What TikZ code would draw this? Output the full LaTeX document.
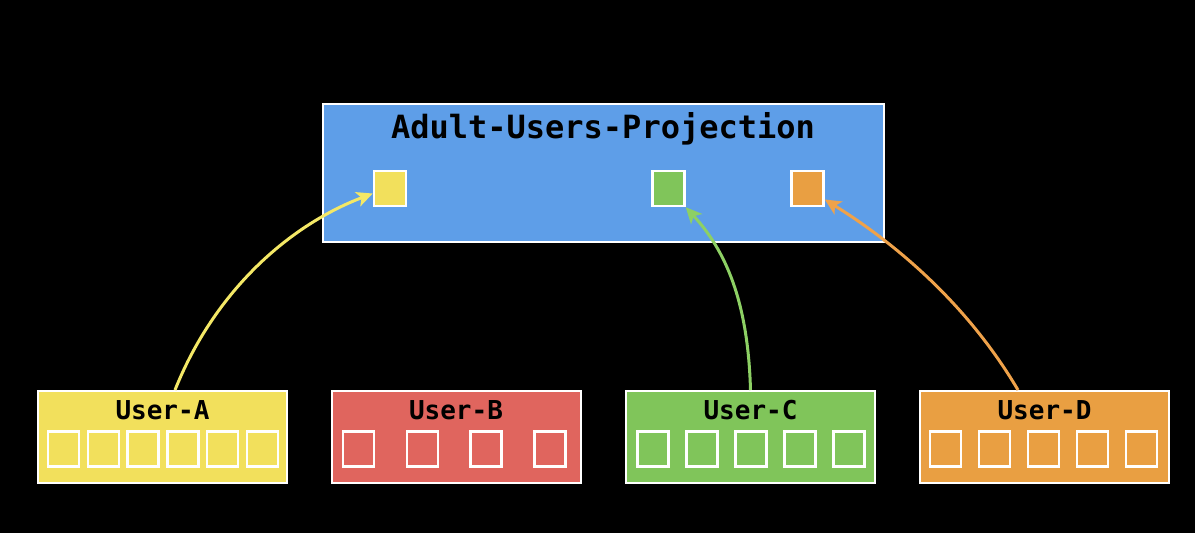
\documentclass[tikz,border=0pt]{standalone}
\usepackage{fontspec}
\newfontfamily\monob{DejaVu Sans Mono}
\usetikzlibrary{arrows.meta}

\definecolor{projblue}{HTML}{5E9EE8}
\definecolor{ua}{HTML}{F2E05C}
\definecolor{ub}{HTML}{E0655E}
\definecolor{uc}{HTML}{80C55A}
\definecolor{ud}{HTML}{E99F42}
\definecolor{ualine}{HTML}{F4E866}
\definecolor{ucline}{HTML}{8DD064}
\definecolor{udline}{HTML}{EFA24A}

\tikzset{
  userbox/.style={draw=white, line width=2pt, minimum width=249pt, minimum height=92pt, inner sep=0pt},
  cell/.style={draw=white, line width=2.5pt, minimum width=31pt, minimum height=35pt, inner sep=0pt},
  pcell/.style={draw=white, line width=2.5pt, minimum width=32pt, minimum height=35pt, inner sep=0pt},
  usertitle/.style={font=\monob\bfseries\fontsize{26}{26}\selectfont, text=black},
  feed/.style={line width=3pt, -{Stealth[length=16pt,width=15pt,inset=4pt]}}
}

\begin{document}
\begin{tikzpicture}[x=1pt,y=-1pt]
% background
\fill[black] (0,0) rectangle (1195,533);
\useasboundingbox (0,0) rectangle (1195,533);

% draw the projection box
\node[draw=white, line width=2pt, fill=projblue, minimum width=561pt, minimum height=138pt, inner sep=0pt] (proj) at (603.5,173) {};
\node[font=\monob\bfseries\fontsize{32}{32}\selectfont] (projtitle) at (603,129) {Adult-Users-Projection};
\node[pcell, fill=ua] (projA) at (390,188.5) {};
\node[pcell, fill=uc] (projC) at (668.5,188.5) {};
\node[pcell, fill=ud] (projD) at (807.5,188.5) {};

% draw the user boxes
\node[userbox, fill=ua] (userA) at (162.5,437) {};
\node[userbox, fill=ub] (userB) at (456,437) {};
\node[userbox, fill=uc] (userC) at (750.5,437) {};
\node[userbox, fill=ud] (userD) at (1044.5,437) {};

\node[usertitle] (titleA) at (162.5,410) {User-A};
\node[usertitle] (titleB) at (456,410) {User-B};
\node[usertitle] (titleC) at (750.5,410) {User-C};
\node[usertitle] (titleD) at (1044.5,410) {User-D};

% draw the records inside each user
\foreach \i in {0,...,5}
\node[cell, fill=ua] (cellA\i) at ({63.5+39.8*\i},449) {};
\foreach \i in {0,...,3}
\node[cell, fill=ub] (cellB\i) at ({358.5+63.8*\i},449) {};
\foreach \i in {0,...,4}
\node[cell, fill=uc] (cellC\i) at ({653+49*\i},449) {};
\foreach \i in {0,...,4}
\node[cell, fill=ud] (cellD\i) at ({945.5+49*\i},449) {};

% draw arrows to the projection
\draw[feed, ualine] ([xshift=12.5pt]userA.north) .. controls (215,290) and (290,225) .. ([yshift=-5pt]projA.west);
\draw[feed, ucline] (userC.north) .. controls (748,300) and (725,250) .. (projC.south east);
\draw[feed, udline] ([xshift=-26.5pt]userD.north) .. controls (965,300) and (890,240) .. ([yshift=-11pt]projD.east);
\end{tikzpicture}
\end{document}
